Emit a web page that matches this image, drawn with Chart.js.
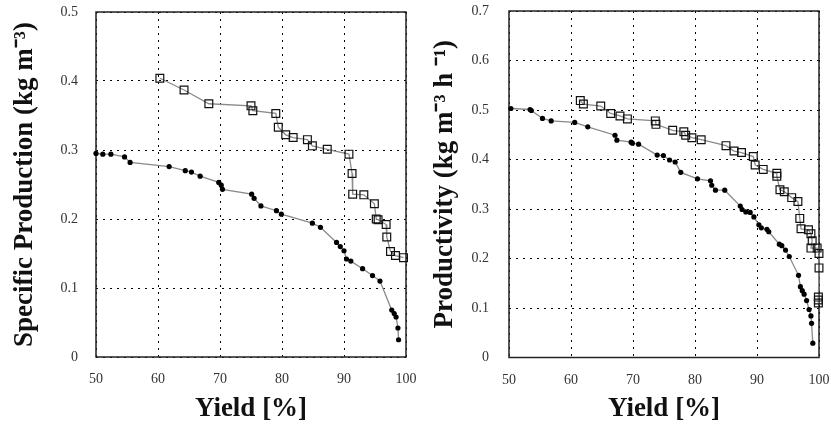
<!DOCTYPE html>
<html>
<head>
<meta charset="utf-8">
<script src="https://cdn.jsdelivr.net/npm/chart.js@4"></script>
<style>
  body { margin: 0; background: #fff; }
  .panel { position: absolute; top: 0; height: 425px; }
</style>
</head>
<body>
<div class="panel" style="left:0;width:440px"><canvas id="leftChart" width="440" height="425"></canvas></div>
<div class="panel" style="left:415px;width:416px"><canvas id="rightChart" width="416" height="425"></canvas></div>
<script>
// Specific production vs yield
const spSquareX = [60.3, 64.2, 68.2, 75.0, 75.3, 79.0, 79.4, 80.6, 81.8, 84.1, 84.9, 87.3, 90.8, 91.3, 91.4, 93.2, 94.9, 95.2, 95.5, 96.8, 96.9, 97.5, 98.3, 99.6];
const spSquareY = [0.404, 0.387, 0.367, 0.364, 0.357, 0.353, 0.333, 0.322, 0.318, 0.315, 0.306, 0.301, 0.294, 0.266, 0.236, 0.235, 0.222, 0.200, 0.199, 0.192, 0.174, 0.153, 0.147, 0.144];
const spDotX = [50.0, 51.1, 52.4, 54.6, 55.5, 61.8, 64.4, 65.4, 66.8, 69.8, 70.2, 70.4, 75.1, 75.5, 76.6, 79.1, 79.9, 84.9, 86.2, 88.8, 89.4, 90.0, 90.4, 91.1, 93.0, 94.6, 95.8, 97.7, 98.1, 98.4, 98.7, 98.8];
const spDotY = [0.295, 0.294, 0.294, 0.290, 0.282, 0.276, 0.270, 0.268, 0.262, 0.253, 0.249, 0.243, 0.236, 0.230, 0.219, 0.212, 0.207, 0.194, 0.188, 0.166, 0.160, 0.154, 0.142, 0.139, 0.128, 0.118, 0.110, 0.068, 0.063, 0.058, 0.042, 0.025];

// Productivity vs yield
const prSquareX = [61.5, 62.0, 64.8, 66.4, 67.9, 69.1, 73.6, 73.7, 76.4, 78.2, 78.5, 79.5, 81.0, 85.0, 86.3, 87.5, 89.4, 89.7, 91.0, 93.2, 93.2, 93.7, 94.4, 95.6, 96.6, 96.9, 97.1, 98.3, 98.7, 98.9, 98.7, 99.7, 100, 100, 99.9, 99.9, 99.9];
const prSquareY = [0.519, 0.512, 0.508, 0.493, 0.488, 0.482, 0.478, 0.471, 0.459, 0.456, 0.449, 0.444, 0.440, 0.428, 0.417, 0.414, 0.406, 0.389, 0.380, 0.372, 0.366, 0.339, 0.335, 0.323, 0.315, 0.281, 0.260, 0.258, 0.250, 0.236, 0.221, 0.221, 0.210, 0.181, 0.122, 0.116, 0.110];
const prDotX = [50.3, 53.4, 53.6, 55.4, 56.8, 60.6, 62.7, 67.1, 67.4, 69.7, 69.9, 70.9, 73.9, 74.9, 75.9, 76.8, 77.7, 80.4, 82.5, 82.7, 83.3, 84.8, 87.3, 87.6, 88.2, 88.9, 89.5, 90.3, 90.7, 91.6, 91.9, 93.6, 94.0, 94.6, 95.2, 96.7, 97.0, 97.3, 97.6, 98.0, 98.4, 98.7, 98.8, 99.0];
const prDotY = [0.503, 0.501, 0.499, 0.483, 0.478, 0.475, 0.466, 0.449, 0.439, 0.435, 0.433, 0.431, 0.409, 0.408, 0.399, 0.395, 0.374, 0.361, 0.357, 0.348, 0.338, 0.338, 0.306, 0.299, 0.294, 0.293, 0.284, 0.268, 0.262, 0.259, 0.254, 0.229, 0.226, 0.217, 0.204, 0.166, 0.143, 0.135, 0.128, 0.115, 0.097, 0.084, 0.069, 0.029];

const xTicks = [50, 60, 70, 80, 90, 100];
const SERIF = "'Liberation Serif', 'Times New Roman', serif";

const boxPlugin = {
  id: "box",
  beforeDatasetsDraw(chart) {
    const a = chart.chartArea, ctx = chart.ctx;
    ctx.save();
    ctx.strokeStyle = "#222";
    ctx.lineWidth = 1.5;
    ctx.strokeRect(a.left, a.top, a.right - a.left, a.bottom - a.top);
    ctx.restore();
  }
};

function toPoints(xs, ys) {
  return xs.map((x, i) => ({ x: x, y: ys[i] }));
}

// keep the plot box where the reference has it: no extra room for edge labels
function noEdgePadding(s) {
  s.paddingLeft = 0;
  s.paddingRight = 0;
  s.paddingTop = 0;
  s.paddingBottom = 0;
}

function makeChart(id, opts) {
  const squares = {
    data: toPoints(opts.sqX, opts.sqY),
    showLine: true,
    borderColor: "#8a8a8a",
    borderWidth: 1.3,
    pointStyle: "rect",
    pointRadius: 5.5,
    pointBorderColor: "#111",
    pointBackgroundColor: "rgba(255,255,255,0)",
    pointBorderWidth: 1.2,
    clip: 8
  };
  const dots = {
    data: toPoints(opts.dotX, opts.dotY),
    showLine: true,
    borderColor: "#8a8a8a",
    borderWidth: 1.3,
    pointStyle: "circle",
    pointRadius: 2.6,
    pointBorderWidth: 0,
    pointBackgroundColor: "#000",
    clip: 8
  };
  return new Chart(document.getElementById(id), {
    type: "scatter",
    data: { datasets: [squares, dots] },
    options: {
      responsive: false,
      animation: false,
      devicePixelRatio: 1,
      layout: { padding: { top: opts.top, right: opts.right, left: 0, bottom: 0 } },
      plugins: { legend: { display: false }, tooltip: { enabled: false } },
      scales: {
        x: {
          type: "linear",
          min: 50, max: 100,
          afterBuildTicks: s => { s.ticks = xTicks.map(v => ({ value: v })); },
          afterFit: s => { s.height = opts.xHeight; noEdgePadding(s); },
          grid: { color: "#000", lineWidth: 1, drawTicks: false },
          border: { display: false, dash: [2, 5] },
          ticks: { color: "#333", font: { family: SERIF, size: 14 }, padding: 14, maxRotation: 0 },
          title: { display: true, text: "Yield [%]", color: "#111",
                   font: { family: SERIF, size: 27, weight: "bold" }, padding: { top: 0, bottom: 0 } }
        },
        y: {
          type: "linear",
          min: 0, max: opts.yMax,
          afterFit: s => { s.width = opts.yWidth; noEdgePadding(s); },
          grid: { color: "#000", lineWidth: 1, drawTicks: false },
          border: { display: false, dash: [2, 5] },
          ticks: { stepSize: 0.1, color: "#333", font: { family: SERIF, size: 14 }, padding: opts.yPad,
                   callback: v => v === 0 ? "0" : v.toFixed(1) },
          title: { display: true, text: opts.yTitle, color: "#111",
                   font: { family: SERIF, size: 27, weight: "bold" }, padding: { top: opts.titlePad, bottom: 0 } }
        }
      }
    },
    plugins: [boxPlugin]
  });
}

makeChart("leftChart", {
  sqX: spSquareX, sqY: spSquareY, dotX: spDotX, dotY: spDotY,
  yMax: 0.5, top: 12, right: 34, xHeight: 68, yWidth: 96, yPad: 18, titlePad: 9,
  yTitle: "Specific Production (kg m\u207B\u00B3)"
});

makeChart("rightChart", {
  sqX: prSquareX, sqY: prSquareY, dotX: prDotX, dotY: prDotY,
  yMax: 0.7, top: 11, right: 12, xHeight: 67.5, yWidth: 94, yPad: 20, titlePad: 14,
  yTitle: "Productivity (kg m\u207B\u00B3 h \u207B\u00B9)"
});
</script>
</body>
</html>
